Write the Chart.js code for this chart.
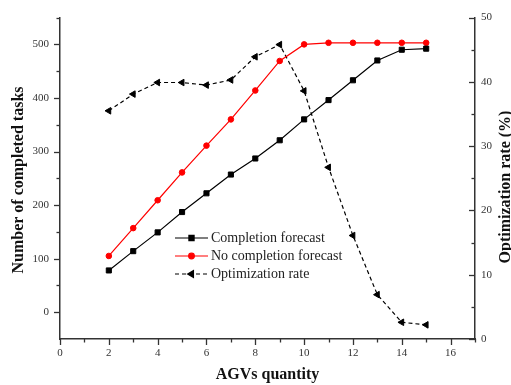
<!DOCTYPE html>
<html><head><meta charset="utf-8">
<script src="https://cdn.jsdelivr.net/npm/chart.js@4/dist/chart.umd.min.js"></script>
<style>html,body{margin:0;padding:0;background:#fff;overflow:hidden}#wrap{width:511px;height:385px;position:relative}</style>
</head><body><div id="wrap"><canvas id="c" width="511" height="385"></canvas></div>
<script>
const agvs = [2,3,4,5,6,7,8,9,10,11,12,13,14,15];
const completionForecast = [78,114,149,187,222,257,287,321,360,396,433,470,490,492];
const noCompletionForecast = [105,157,209,261,311,360,414,469,500,503,503,503,503,503];
const optimizationRate = [35.5,38.1,39.9,39.9,39.5,40.3,43.9,45.8,38.6,26.7,16.1,6.9,2.6,2.2];
const xTicks = [0,2,4,6,8,10,12,14,16];
const xMinor = [1,3,5,7,9,11,13,15,17];
const leftTicks = [0,100,200,300,400,500];
const leftMinor = [50,150,250,350,450,550];
const rightTicks = [0,10,20,30,40,50];
const rightMinor = [5,15,25,35,45];
const seriesNames = ['Completion forecast','No completion forecast','Optimization rate'];
const xTitle = 'AGVs quantity';
const yTitle = 'Number of completed tasks';
const y2Title = 'Optimization rate (%)';

const FONT = "'Liberation Serif', 'Times New Roman', serif";
const AXIS = '#333';

function pts(ys){ return agvs.map((x,i)=>({x:x,y:ys[i]})); }

const decor = {
  id:'decor',
  afterDraw(chart){
    const ctx = chart.ctx, ca = chart.chartArea;
    const sx = chart.scales.x, sy = chart.scales.y, sy2 = chart.scales.y2;
    ctx.save();
    ctx.strokeStyle = AXIS; ctx.lineWidth = 1.3;
    function seg(x1,y1,x2,y2){ ctx.beginPath(); ctx.moveTo(x1,y1); ctx.lineTo(x2,y2); ctx.stroke(); }
    leftTicks.forEach(v=>{ const y=Math.round(sy.getPixelForValue(v))+0.5; seg(ca.left-6,y,ca.left,y); });
    leftMinor.forEach(v=>{ const y=Math.round(sy.getPixelForValue(v))+0.5; seg(ca.left-3.5,y,ca.left,y); });
    xTicks.forEach(v=>{ const x=Math.round(sx.getPixelForValue(v))+0.5; seg(x,ca.bottom,x,ca.bottom+6); });
    xMinor.forEach(v=>{ const x=Math.round(sx.getPixelForValue(v))+0.5; seg(x,ca.bottom,x,ca.bottom+3.5); });
    rightTicks.forEach(v=>{ const y=Math.round(sy2.getPixelForValue(v))+0.5; seg(ca.right-6,y,ca.right,y); });
    rightMinor.forEach(v=>{ const y=Math.round(sy2.getPixelForValue(v))+0.5; seg(ca.right-3.5,y,ca.right,y); });

    // axis titles
    ctx.fillStyle = '#111';
    ctx.font = 'bold 16px ' + FONT;
    ctx.textAlign = 'center'; ctx.textBaseline = 'middle';
    ctx.fillText(xTitle, (ca.left+ca.right)/2, 375);
    ctx.save(); ctx.translate(19, 180); ctx.rotate(-Math.PI/2); ctx.fillText(yTitle,0,0); ctx.restore();
    ctx.save(); ctx.translate(506, 187); ctx.rotate(-Math.PI/2); ctx.fillText(y2Title,0,0); ctx.restore();

    // legend
    const rows = [238, 256, 274];
    chart.data.datasets.forEach((ds,i)=>{
      const y = rows[i];
      ctx.save();
      ctx.strokeStyle = ds.borderColor; ctx.lineWidth = ds.borderWidth;
      ctx.setLineDash(ds.borderDash || []);
      seg(175,y,208,y);
      ctx.restore();
      ctx.save();
      ctx.fillStyle = ds.pointBackgroundColor; ctx.strokeStyle = ds.pointBorderColor;
      Chart.helpers.drawPoint(ctx, {pointStyle: ds.pointStyle, radius: ds.pointRadius, rotation: ds.pointRotation||0, borderWidth: 1}, 191.5, y);
      ctx.restore();
      ctx.fillStyle = '#222';
      ctx.font = '14px ' + FONT;
      ctx.textAlign = 'left'; ctx.textBaseline = 'middle';
      ctx.fillText(ds.label, 211, y+0.5);
    });
    ctx.restore();
  }
};

const tickFont = {family: FONT, size: 11};

new Chart(document.getElementById('c'), {
  type: 'line',
  data: {
    datasets: [
      {label: seriesNames[0], data: pts(completionForecast), yAxisID:'y', borderColor:'#000', backgroundColor:'#000',
       borderWidth:1.2, pointStyle:'rect', pointRadius:3.6, pointBackgroundColor:'#000', pointBorderColor:'#000', pointBorderWidth:1, tension:0},
      {label: seriesNames[1], data: pts(noCompletionForecast), yAxisID:'y', borderColor:'#ff0000', backgroundColor:'#ff0000',
       borderWidth:1.2, pointStyle:'circle', pointRadius:2.8, pointBackgroundColor:'#ff0000', pointBorderColor:'#ff0000', pointBorderWidth:1, tension:0},
      {label: seriesNames[2], data: pts(optimizationRate), yAxisID:'y2', borderColor:'#000', backgroundColor:'#000',
       borderWidth:1.2, borderDash:[4,3], pointStyle:'triangle', pointRotation:-90, pointRadius:3.8, pointBackgroundColor:'#000', pointBorderColor:'#000', pointBorderWidth:1, tension:0}
    ]
  },
  options: {
    responsive:false, animation:false, devicePixelRatio:1,
    layout:{padding:{top:12,left:0,right:0,bottom:0}},
    plugins:{legend:{display:false}, tooltip:{enabled:false}},
    scales:{
      x:{type:'linear', position:'bottom', min:0, max:17,
        afterFit(s){ s.height = 46; },
        afterBuildTicks(s){ s.ticks = xTicks.map(v=>({value:v})); },
        grid:{display:false, drawTicks:false},
        border:{display:true, color:AXIS, width:1.5},
        ticks:{padding:8, font:tickFont, color:'#333', autoSkip:false, maxRotation:0}
      },
      y:{type:'linear', position:'left', min:-50, max:550,
        afterFit(s){ s.width = 60; },
        afterBuildTicks(s){ s.ticks = leftTicks.map(v=>({value:v})); },
        grid:{display:false, drawTicks:false},
        border:{display:true, color:AXIS, width:1.5},
        ticks:{padding:11, font:tickFont, color:'#333', autoSkip:false}
      },
      y2:{type:'linear', position:'right', min:0, max:50,
        afterFit(s){ s.width = 36; },
        afterBuildTicks(s){ s.ticks = rightTicks.map(v=>({value:v})); },
        grid:{display:false, drawTicks:false},
        border:{display:true, color:AXIS, width:1.5},
        ticks:{padding:6, font:tickFont, color:'#333', autoSkip:false}
      }
    }
  },
  plugins:[decor]
});
</script>
</body></html>
